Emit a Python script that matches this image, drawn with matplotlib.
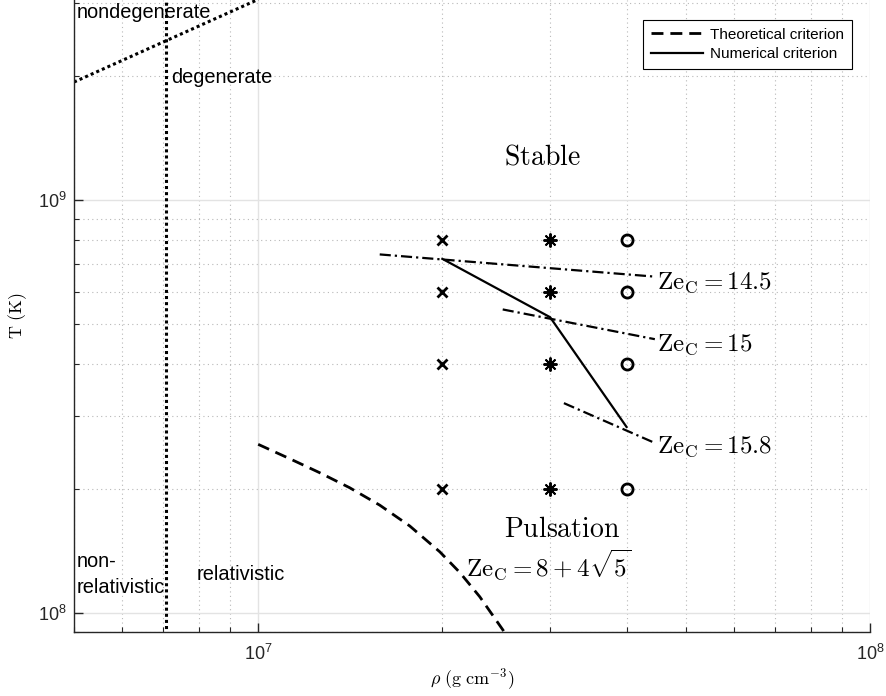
import matplotlib
matplotlib.use("Agg")
import matplotlib.pyplot as plt

plt.rcParams['font.family'] = ['Liberation Sans', 'DejaVu Sans']
plt.rcParams['mathtext.fontset'] = 'cm'

# simulation grid (density, temperature)
grid_rho = [2e7, 3e7, 4e7]
grid_T = [8e8, 6e8, 4e8, 2e8]
grid_markers = ['x', (8, 2, 0), 'o']

# numerical stability boundary
num_rho = [2e7, 3e7, 4e7]
num_T = [7.2e8, 5.2e8, 2.82e8]

# constant Ze_C lines
ze_rho = [[1.58e7, 4.45e7], [2.51e7, 4.45e7], [3.16e7, 4.42e7]]
ze_T = [[7.38e8, 6.52e8], [5.43e8, 4.6e8], [3.22e8, 2.59e8]]
ze_labels = [r'$\mathrm{Ze}_\mathrm{C} = 14.5$', r'$\mathrm{Ze}_\mathrm{C} = 15$',
             r'$\mathrm{Ze}_\mathrm{C} = 15.8$']
ze_label_rho = [4.48e7, 4.48e7, 4.48e7]
ze_label_T = [6.09e8, 4.31e8, 2.44e8]

# theoretical criterion Ze_C = 8 + 4 sqrt(5)
theo_rho = [1.0e7, 1.126e7, 1.26e7, 1.411e7, 1.58e7, 1.769e7, 1.981e7,
            2.136e7, 2.302e7, 2.513e7, 2.577e7]
theo_T = [2.559e8, 2.362e8, 2.185e8, 2.009e8, 1.823e8, 1.623e8, 1.405e8,
          1.252e8, 1.094e8, 9.08e7, 8.55e7]

# degeneracy and relativistic boundaries
deg_rho = [5e6, 1e7]
deg_T = [1.93e9, 3.06e9]
rel_rho = [7.08e6, 7.08e6]
rel_T = [8e7, 4e9]

fig = plt.figure(figsize=(8.86, 6.96), dpi=100)
ax = fig.add_axes([74/886, (696-631.7)/696, 796/886, 631.7/696])
ax.set_xscale('log')
ax.set_yscale('log')

# grid
ax.grid(True, which='major', color='#e3e3e3', linestyle='-', linewidth=1.0)
ax.grid(True, which='minor', color='#b8b8b8', linestyle=(0, (1, 3)), linewidth=0.8)
ax.set_axisbelow(True)

ax.plot(deg_rho, deg_T, color='k', linewidth=2.2, dashes=(1, 1), dash_capstyle='butt')
ax.plot(rel_rho, rel_T, color='k', linewidth=2.2, dashes=(1, 1), dash_capstyle='butt')

ax.plot(theo_rho, theo_T, color='k', linewidth=2, dashes=(4.3, 2.5),
        label='Theoretical criterion')
ax.plot(num_rho, num_T, color='k', linewidth=1.6, label='Numerical criterion')

for r, T in zip(ze_rho, ze_T):
    ax.plot(r, T, color='k', linewidth=1.6, dashes=(5, 1.8, 1, 1.8))

for r, m in zip(grid_rho, grid_markers):
    if m == 'x':
        ms, mew = 7, 2
    elif m == 'o':
        ms, mew = 8, 2
    else:
        ms, mew = 10, 1.4
    ax.plot([r]*len(grid_T), grid_T, linestyle='none', marker=m, color='k',
            markersize=ms, markeredgewidth=mew, markerfacecolor='none')

for lab, r, T in zip(ze_labels, ze_label_rho, ze_label_T):
    ax.text(r, T, lab, fontsize=18, ha='left', va='baseline')

ax.text(2.52e7, 1.216e9, r'$\mathrm{Stable}$', fontsize=20, ha='left', va='baseline')
ax.text(2.52e7, 1.526e8, r'$\mathrm{Pulsation}$', fontsize=20, ha='left', va='baseline')
ax.text(2.19e7, 1.22e8, r'$\mathrm{Ze}_\mathrm{C} = 8 + 4\sqrt{5}$', fontsize=18,
        ha='left', va='baseline')

ax.text(5.05e6, 2.76e9, 'nondegenerate', fontsize=14.4, ha='left', va='baseline')
ax.text(7.2e6, 1.918e9, 'degenerate', fontsize=14.4, ha='left', va='baseline')
ax.text(5.05e6, 1.293e8, 'non-', fontsize=14.4, ha='left', va='baseline')
ax.text(5.05e6, 1.114e8, 'relativistic', fontsize=14.4, ha='left', va='baseline')
ax.text(7.93e6, 1.2e8, 'relativistic', fontsize=14.4, ha='left', va='baseline')

ax.set_xlim(5e6, 1e8)
ax.set_ylim(9e7, 3.05e9)

ax.set_xlabel(r'$\rho\ \mathrm{(g\ cm^{-3})}$', fontsize=13, labelpad=2)
ax.set_ylabel(r'$\mathrm{T\ (K)}$', fontsize=13, labelpad=7)

for s in ['top', 'right']:
    ax.spines[s].set_visible(False)
for s in ['left', 'bottom']:
    ax.spines[s].set_color('#262626')
    ax.spines[s].set_linewidth(1.0)
ax.tick_params(which='both', direction='in', colors='#262626', labelsize=13)
ax.tick_params(which='major', length=6.5, width=1.0)
ax.tick_params(which='minor', length=3.5, width=0.8)
ax.tick_params(axis='x', pad=9)
ax.tick_params(axis='y', pad=5)
ax.yaxis.set_minor_formatter(matplotlib.ticker.NullFormatter())
ax.xaxis.set_minor_formatter(matplotlib.ticker.NullFormatter())

leg = ax.legend(loc='upper right', bbox_to_anchor=((852-74)/796, (631.7-20)/631.7),
                fontsize=11, frameon=True, fancybox=False, framealpha=1,
                edgecolor='k', handlelength=3.4, borderpad=0.5, labelspacing=0.35,
                handletextpad=0.5, borderaxespad=0)
leg.get_frame().set_linewidth(0.8)

fig.savefig('out.png', dpi=100)
